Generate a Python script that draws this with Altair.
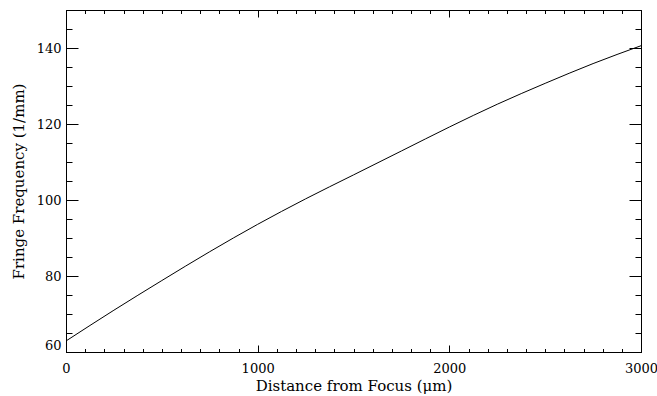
import altair as alt
import pandas as pd

# Data
distance_um = [0, 250, 500, 750, 1000, 1250, 1500, 1750, 2000, 2250, 2500, 2750, 3000]
fringe_freq = [62.9, 71.0, 78.8, 86.4, 93.6, 100.3, 106.6, 112.9, 119.2, 125.2, 130.7, 135.9, 140.6]

x_major = [0, 1000, 2000, 3000]
x_minor = list(range(0, 3001, 100))
y_major = [60, 80, 100, 120, 140]
y_minor = list(range(60, 151, 5))

df = pd.DataFrame({"d": distance_um, "f": fringe_freq})

W, H = 575, 342
FONT = "DejaVu Serif"


def xs():
    return alt.Scale(domain=[0, 3000], nice=False, zero=False)


def ys():
    return alt.Scale(domain=[60, 150], nice=False, zero=False)


main = alt.Chart(df).mark_line(color="black", strokeWidth=1, interpolate="monotone").encode(
    x=alt.X("d:Q", scale=xs(), axis=alt.Axis(
        orient="bottom", values=x_major, ticks=False, domain=True, domainColor="black",
        labelPadding=10, labelFlush=False, title="Distance from Focus (\u03bcm)", titlePadding=3,
        format="d", grid=False)),
    y=alt.Y("f:Q", scale=ys(), axis=alt.Axis(
        orient="left", values=y_major, ticks=False, domain=True, domainColor="black",
        labelPadding=5, labelFlush=True, title="Fringe Frequency (1/mm)", titlePadding=10,
        format="d", grid=False)),
)


def tick_layer(xorient, yorient, xvals, yvals, xsize, ysize, xoff, yoff):
    return alt.Chart(df).mark_line(opacity=0).encode(
        x=alt.X("d:Q", scale=xs(), axis=alt.Axis(
            orient=xorient, values=xvals, ticks=True, tickSize=xsize, tickColor="black",
            labels=False, domain=False, title=None, grid=False, offset=xoff)),
        y=alt.Y("f:Q", scale=ys(), axis=alt.Axis(
            orient=yorient, values=yvals, ticks=True, tickSize=ysize, tickColor="black",
            labels=False, domain=False, title=None, grid=False, offset=yoff)),
    )


layers = [
    main,
    tick_layer("top", "right", x_major, y_major, 7, 12, -H, -W),
    tick_layer("top", "right", x_minor, y_minor, 3.5, 6, -H, -W),
    tick_layer("bottom", "left", x_major, y_major, 7, 12, -H, -W),
    tick_layer("bottom", "left", x_minor, y_minor, 3.5, 6, -H, -W),
]

chart = alt.layer(*layers).resolve_scale(
    x="independent", y="independent"
).resolve_axis(
    x="independent", y="independent"
).properties(
    width=W, height=H,
    autosize=alt.AutoSizeParams(type="none"),
    padding={"left": 66, "top": 10, "right": 16, "bottom": 44},
    background="white",
).configure_view(
    stroke="black", strokeWidth=1
).configure_axis(
    labelFont=FONT, labelFontSize=13, labelColor="black",
    titleFont=FONT, titleFontSize=15, titleFontWeight="normal", titleColor="black",
    tickWidth=1,
)

chart.save("out.html", embed_options={"renderer": "svg", "actions": False})
